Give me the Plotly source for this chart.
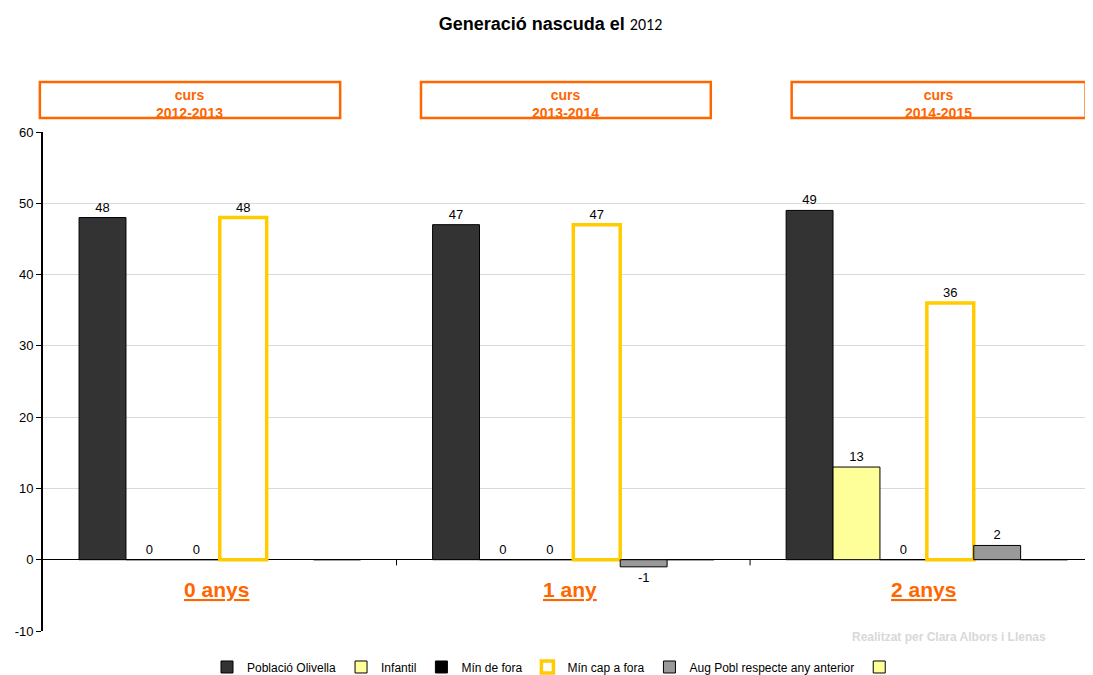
import plotly.graph_objects as go

categories = ["0 anys", "1 any", "2 anys"]
courses = ["curs<br>2012-2013", "curs<br>2013-2014", "curs<br>2014-2015"]
poblacio = [48, 47, 49]
infantil = [0, 0, 13]
min_de_fora = [0, 0, 0]
min_cap_a_fora = [48, 47, 36]
aug_pobl = [None, -1, 2]
blank = [0, 0, 0]
y_ticks = [-10, 0, 10, 20, 30, 40, 50, 60]

FONT = "Liberation Sans, Arial, sans-serif"
ORANGE = "#FF6600"

fig = go.Figure()

def add_bar(name, vals, fill, line_color, line_width, show_text=True):
    txt = [("" if v is None else str(v)) for v in vals] if show_text else None
    fig.add_trace(go.Bar(
        name=name, x=categories, y=vals,
        marker=dict(color=fill, line=dict(color=line_color, width=line_width)),
        text=txt, textposition="outside", cliponaxis=False,
        textfont=dict(family=FONT, size=13, color="black"),
    ))

add_bar("Població Olivella", poblacio, "#333333", "black", 1)
add_bar("Infantil", infantil, "#FFFF99", "black", 1)
add_bar("Mín de fora", min_de_fora, "black", "black", 1)
add_bar("Mín cap a fora", min_cap_a_fora, "white", "#FFCC00", 3.5)
add_bar("Aug Pobl respecte any anterior", aug_pobl, "#999999", "black", 1)
add_bar(" ", blank, "#FFFF99", "black", 1, show_text=False)

shapes = []
annotations = []
box_x = [(-0.003, 0.283), (0.360, 0.636), (0.713, 0.993)]
for (x0, x1), txt in zip(box_x, courses):
    shapes.append(dict(type="rect", xref="paper", yref="paper", x0=x0, x1=x1,
                       y0=1.028, y1=1.100, line=dict(color=ORANGE, width=2.5),
                       fillcolor="white"))
    annotations.append(dict(xref="paper", yref="paper", x=(x0 + x1) / 2, y=1.064,
                            xanchor="center", yanchor="middle",
                            text="<b>" + txt + "</b>", showarrow=False,
                            font=dict(family=FONT, size=14, color=ORANGE),
                            yshift=-4))

for i, c in enumerate(categories):
    annotations.append(dict(xref="x", yref="paper", x=i - 0.01, y=0.084,
                            xanchor="center", yanchor="middle",
                            text="<b><u>" + c + "</u></b>", showarrow=False,
                            font=dict(family=FONT, size=21, color=ORANGE)))

for b in [0.5, 1.5]:
    shapes.append(dict(type="line", xref="x", yref="y", x0=b, x1=b, y0=0, y1=-0.8,
                       line=dict(color="black", width=1)))

annotations.append(dict(xref="paper", yref="paper", x=0.863, y=-0.012,
                        xanchor="center", yanchor="middle",
                        text="<b>Realitzat per Clara Albors i Llenas</b>", showarrow=False,
                        font=dict(family=FONT, size=12, color="#d8d8d8")))

fig.update_layout(
    width=1085, height=667,
    margin=dict(l=35, r=0, t=124, b=44),
    paper_bgcolor="white", plot_bgcolor="white",
    barmode="group", bargap=0.204, bargroupgap=0,
    title=dict(text="<b>Generació nascuda el </b><span style='font-family:Carlito, Open Sans; font-size:16px'>2012</span>",
               x=0.5, xanchor="center", y=0.977, yanchor="middle",
               font=dict(family=FONT, size=18, color="black")),
    font=dict(family=FONT, size=13, color="black"),
    xaxis=dict(range=[-0.5, 2.47], showticklabels=False, showgrid=False,
               showline=False, ticks="", zeroline=False),
    yaxis=dict(range=[-10, 60], tickmode="array", tickvals=y_ticks,
               ticktext=[str(v) for v in y_ticks],
               showgrid=True, gridcolor="#d9d9d9",
               gridwidth=1, zeroline=True, zerolinecolor="black", zerolinewidth=1,
               showline=True, linecolor="black", linewidth=1.8, ticks="outside",
               ticklen=5, tickcolor="black", tickfont=dict(size=13)),
    legend=dict(orientation="h", xanchor="center", x=0.49, yref="container",
                yanchor="middle", y=0.012, font=dict(size=12),
                itemwidth=30, tracegroupgap=0),
    shapes=shapes, annotations=annotations,
    showlegend=True,
)

fig.write_html("out.html", post_script="document.body.style.overflow='hidden';")
